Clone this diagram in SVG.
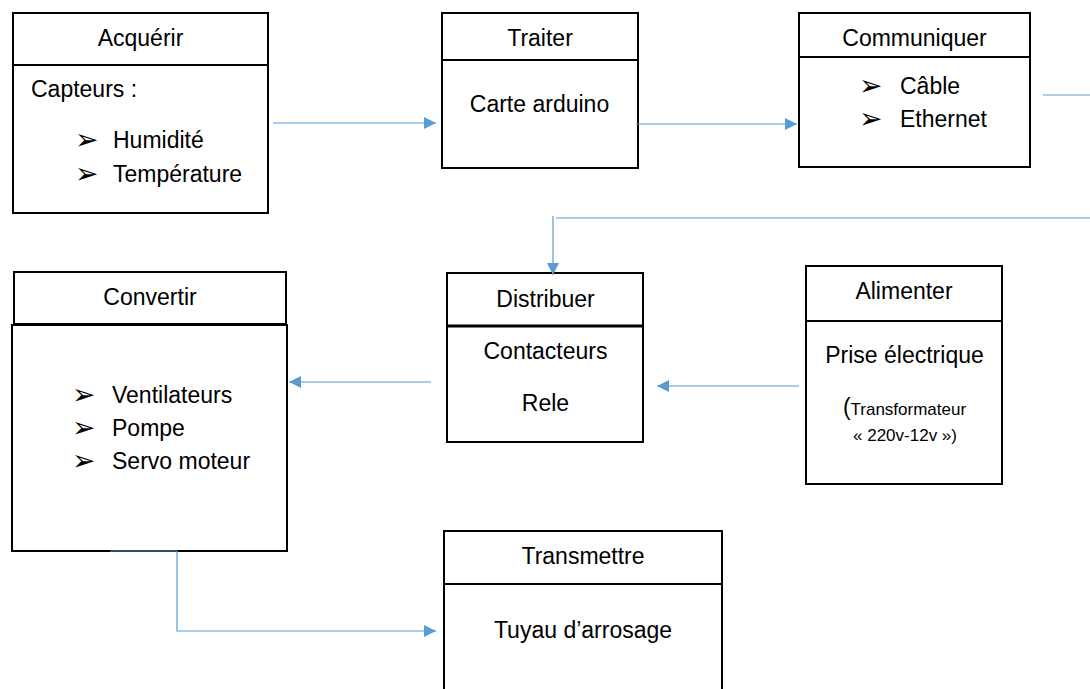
<svg xmlns="http://www.w3.org/2000/svg" width="1090" height="689" viewBox="0 0 1090 689">
<style>
.box{fill:#fff;stroke:#000;stroke-width:2}
.div{stroke:#000;stroke-width:2}
.t{font-family:"Liberation Sans",Arial,sans-serif;font-size:23px;fill:#000}
.c{text-anchor:middle}
.s{font-size:17px}
.b{font-family:"DejaVu Sans",sans-serif;font-size:28px;fill:#000}
.cn{fill:none;stroke:#5B9BD5;stroke-width:1.2}
</style>
<defs>
<marker id="ah" markerUnits="userSpaceOnUse" viewBox="0 0 12 12" refX="12" refY="6" markerWidth="12" markerHeight="12" orient="auto">
<path d="M0,0 L12,6 L0,12 z" fill="#5B9BD5"/>
</marker>
</defs>
<rect width="1090" height="689" fill="#fff"/>

<g id="acquerir">
<rect class="box" x="13" y="13" width="255" height="200"/>
<line class="div" x1="13" y1="65" x2="268" y2="65"/>
<text class="t c" x="140.5" y="46">Acquérir</text>
<text class="t" x="31" y="97">Capteurs :</text>
<text class="b" x="75" y="149">➢</text>
<text class="t" x="113" y="148">Humidité</text>
<text class="b" x="75" y="183">➢</text>
<text class="t" x="113" y="182">Température</text>
</g>

<g id="traiter">
<rect class="box" x="442" y="13" width="196" height="155"/>
<line class="div" x1="442" y1="60" x2="638" y2="60"/>
<text class="t c" x="540" y="46">Traiter</text>
<text class="t c" x="539.5" y="112">Carte arduino</text>
</g>

<g id="communiquer">
<rect class="box" x="799" y="13" width="231" height="154"/>
<line class="div" x1="799" y1="57" x2="1030" y2="57"/>
<text class="t c" x="914.5" y="46">Communiquer</text>
<text class="b" x="859" y="95">➢</text>
<text class="t" x="900" y="94">Câble</text>
<text class="b" x="859" y="128">➢</text>
<text class="t" x="900" y="127">Ethernet</text>
</g>

<g id="convertir">
<rect class="box" x="14" y="272" width="272" height="52"/>
<rect class="box" x="12" y="325" width="275" height="226"/>
<text class="t c" x="150" y="305">Convertir</text>
<text class="b" x="72" y="404">➢</text>
<text class="t" x="112" y="403">Ventilateurs</text>
<text class="b" x="72" y="437">➢</text>
<text class="t" x="112" y="436">Pompe</text>
<text class="b" x="72" y="470">➢</text>
<text class="t" x="112" y="469">Servo moteur</text>
</g>

<g id="distribuer">
<rect class="box" x="447" y="273" width="196" height="169"/>
<line x1="447" y1="326" x2="643" y2="326" stroke="#000" stroke-width="3"/>
<text class="t c" x="545.5" y="307">Distribuer</text>
<text class="t c" x="545.5" y="359">Contacteurs</text>
<text class="t c" x="545.5" y="411">Rele</text>
</g>

<g id="alimenter">
<rect class="box" x="806" y="266" width="196" height="218"/>
<line class="div" x1="806" y1="321" x2="1002" y2="321"/>
<text class="t c" x="904" y="299">Alimenter</text>
<text class="t c" x="904.5" y="363">Prise électrique</text>
<text class="t c" x="904.5" y="415"><tspan>(</tspan><tspan class="s">Transformateur</tspan></text>
<text class="t c s" x="905" y="441">« 220v-12v »)</text>
</g>

<g id="transmettre">
<rect class="box" x="444" y="531" width="278" height="170"/>
<line class="div" x1="444" y1="584" x2="722" y2="584"/>
<text class="t c" x="583" y="564">Transmettre</text>
<text class="t c" x="583" y="638">Tuyau d’arrosage</text>
</g>

<g id="connectors">
<line class="cn" x1="273" y1="123" x2="436" y2="123" marker-end="url(#ah)"/>
<line class="cn" x1="636" y1="124" x2="797" y2="124" marker-end="url(#ah)"/>
<line class="cn" x1="1043" y1="95" x2="1090" y2="95"/>
<line class="cn" x1="556" y1="218" x2="1090" y2="218"/>
<line class="cn" x1="553" y1="216" x2="553" y2="275" marker-end="url(#ah)"/>
<line class="cn" x1="431" y1="382" x2="289" y2="382" marker-end="url(#ah)"/>
<line class="cn" x1="799" y1="386" x2="657" y2="386" marker-end="url(#ah)"/>
<polyline class="cn" points="110,551 177,551 177,631 436,631" marker-end="url(#ah)"/>
</g>
</svg>
